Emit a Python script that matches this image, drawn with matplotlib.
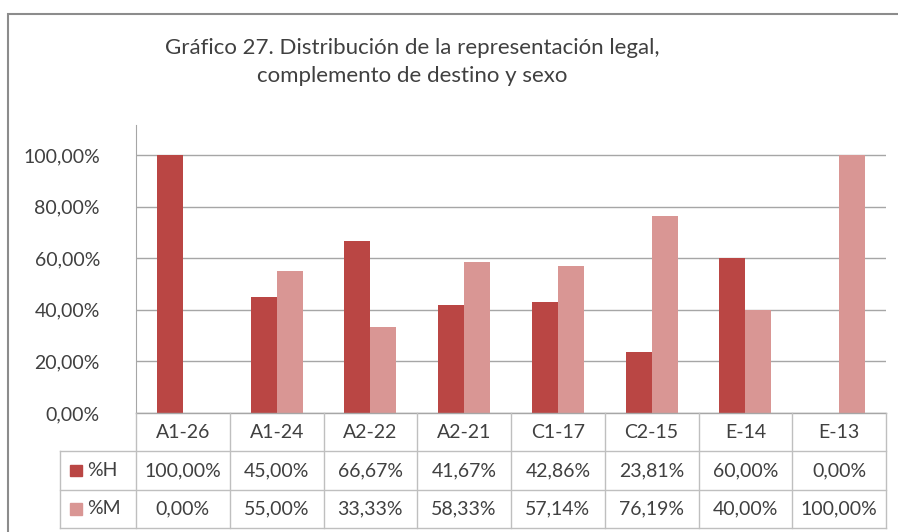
import numpy as np
import matplotlib.pyplot as plt
from matplotlib.patches import Rectangle

plt.rcParams['font.family'] = ['Lato', 'DejaVu Sans']

# data
categorias = ["A1-26", "A1-24", "A2-22", "A2-21", "C1-17", "C2-15", "E-14", "E-13"]
pct_h = [100.00, 45.00, 66.67, 41.67, 42.86, 23.81, 60.00, 0.00]
pct_m = [0.00, 55.00, 33.33, 58.33, 57.14, 76.19, 40.00, 100.00]
series = ["%H", "%M"]
colores = ["#BA4644", "#D99694"]
yticks = [0, 0.2, 0.4, 0.6, 0.8, 1.0]

W, H = 898, 532
fig = plt.figure(figsize=(W / 100, H / 100), dpi=100)

def px(x0, y0, x1, y1):
    # pixel box (top-left origin) -> figure fraction
    return [x0 / W, 1 - y1 / H, (x1 - x0) / W, (y1 - y0) / H]

# outer frame of the chart
fig.patches.append(Rectangle((8 / W, -0.1), 1.2, 1 - 14 / H + 0.1, transform=fig.transFigure,
                             fill=False, edgecolor="#8C8C8C", linewidth=1.5))

fig.text(412 / W, 1 - 62 / H, "Gráfico 27. Distribución de la representación legal,\ncomplemento de destino y sexo",
         ha="center", va="center", fontsize=16, color="#404040", linespacing=1.5)

ax = fig.add_axes(px(136, 125, 886, 413))
x = np.arange(len(categorias))
bw = 0.277
ax.bar(x - bw / 2, np.array(pct_h) / 100, bw, color=colores[0], zorder=3)
ax.bar(x + bw / 2, np.array(pct_m) / 100, bw, color=colores[1], zorder=3)
ax.set_xlim(-0.5, len(categorias) - 0.5)
ax.set_ylim(0, 1.116)
ax.set_yticks(yticks)
ax.set_yticklabels([f"{v * 100:.2f}%".replace(".", ",") for v in yticks], fontsize=14, color="#404040")
ax.set_xticks([])
ax.grid(axis="y", color="#A6A6A6", linewidth=1, zorder=0)
for s in ["top", "right", "bottom"]:
    ax.spines[s].set_visible(False)
ax.spines["left"].set_color("#A6A6A6")
ax.tick_params(axis="y", length=0, pad=26)

# data table under the plot
tb = fig.add_axes(px(136, 413, 886, 528))
tb.set_xlim(-0.5, len(categorias) - 0.5)
tb.set_ylim(3, 0)
tb.axis("off")
lc = "#BFBFBF"
leg_w = 0.81
tb.plot([-0.5, len(categorias) - 0.5], [0, 0], color="#A6A6A6", lw=1, clip_on=False)
for r in [1, 2, 3]:
    tb.plot([-0.5 - leg_w, len(categorias) - 0.5], [r, r], color=lc, lw=1, clip_on=False)
for k in range(len(categorias) + 1):
    tb.plot([k - 0.5, k - 0.5], [0, 3], color=lc, lw=1, clip_on=False)
tb.plot([-0.5 - leg_w, -0.5 - leg_w], [1, 3], color=lc, lw=1, clip_on=False)

for i, c in enumerate(categorias):
    tb.text(i, 0.5, c, ha="center", va="center", fontsize=14, color="#404040")
for r, (nombre, vals, col) in enumerate(zip(series, [pct_h, pct_m], colores), start=1):
    tb.add_patch(Rectangle((-0.5 - leg_w + 0.11, r + 0.35), 0.12, 0.3, color=col, clip_on=False))
    tb.text(-0.5 - leg_w + 0.29, r + 0.5, nombre, ha="left", va="center", fontsize=14, color="#404040")
    for i, v in enumerate(vals):
        tb.text(i, r + 0.5, f"{v:.2f}%".replace(".", ","), ha="center", va="center",
                fontsize=14, color="#404040")

fig.savefig("out.png", dpi=100)
